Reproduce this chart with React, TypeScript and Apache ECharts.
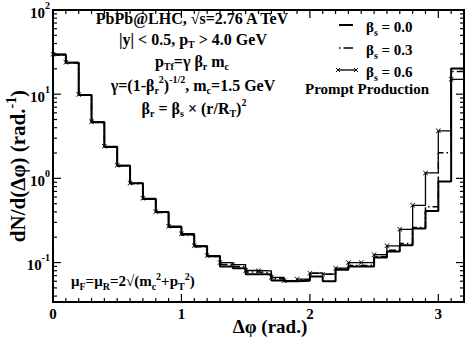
import React, { useEffect, useRef } from 'react';
import * as echarts from 'echarts';

// ---- data ----
const binLeftEdges = [
  0.0, 0.1, 0.2, 0.3, 0.4, 0.5, 0.6, 0.7, 0.8, 0.9,
  1.0, 1.1, 1.2, 1.3, 1.4, 1.5, 1.6, 1.7, 1.8, 1.9,
  2.0, 2.1, 2.2, 2.3, 2.4, 2.5, 2.6, 2.7, 2.8, 2.9,
  3.0, 3.1,
];
const lastBinRightEdge = 3.2;

const dNdPhiBetaS00 = [
  29.5, 23.6, 9.8, 4.64, 2.36, 1.41, 0.873, 0.57, 0.398, 0.265,
  0.215, 0.156, 0.119, 0.0897, 0.0857, 0.0728, 0.0728, 0.0614, 0.0598, 0.0609,
  0.0685, 0.0598, 0.0821, 0.0897, 0.0897, 0.1145, 0.135, 0.16, 0.253, 0.41,
  0.92, 20.2,
];
const dNdPhiBetaS03 = [
  29.3, 23.4, 9.7, 4.62, 2.34, 1.40, 0.866, 0.566, 0.394, 0.262,
  0.212, 0.154, 0.118, 0.095, 0.09, 0.077, 0.076, 0.064, 0.060, 0.062,
  0.0748, 0.0728, 0.084, 0.092, 0.093, 0.118, 0.14, 0.168, 0.26, 0.46,
  2.02, 18.6,
];
const dNdPhiBetaS06 = [
  29.8, 23.9, 9.9, 4.7, 2.4, 1.43, 0.88, 0.58, 0.40, 0.27,
  0.22, 0.158, 0.121, 0.1, 0.0947, 0.0805, 0.0798, 0.0667, 0.061, 0.0637,
  0.0748, 0.0728, 0.0857, 0.1, 0.1, 0.124, 0.158, 0.248, 0.478, 1.16,
  3.67, 15.0,
];

const seriesNames = ['βs = 0.0', 'βs = 0.3', 'βs = 0.6'];
const xTickLabels = ['0', '1', '2', '3'];
const yTickExponents = [-1, 0, 1, 2];

const X_MIN = 0;
const X_MAX = 3.2;
const Y_MIN = 0.034;
const Y_MAX = 100;

const SERIF = '"Liberation Serif", "Times New Roman", serif';
const F = (size: number) => `bold ${size}px ${SERIF}`;

function richFor(size: number): any {
  const sub = Math.round(size * 0.65);
  return {
    s: { font: F(sub), lineHeight: sub, verticalAlign: 'bottom', fill: '#000' },
    u: { font: F(sub), lineHeight: sub, verticalAlign: 'top', fill: '#000' },
  };
}

function txt(text: string, x: number, y: number, opts: any = {}) {
  const size = opts.size || 15;
  return {
    type: 'text',
    x,
    y,
    rotation: opts.rotation || 0,
    silent: true,
    z: 100,
    style: {
      text,
      font: F(size),
      fill: '#000',
      align: opts.align || 'center',
      verticalAlign: 'middle',
      lineHeight: Math.round(size * 1.3),
      rich: richFor(size),
    },
  };
}

function seg(x1: number, y1: number, x2: number, y2: number, w: number, dash?: number[]) {
  return {
    type: 'line',
    silent: true,
    z: 100,
    shape: { x1, y1, x2, y2 },
    style: { stroke: '#000', lineWidth: w, lineDash: dash || null },
  };
}

function cross(cx: number, cy: number, r: number) {
  return [seg(cx - r, cy - r, cx + r, cy + r, 1), seg(cx - r, cy + r, cx + r, cy - r, 1)];
}

function histData(vals: number[]) {
  const pts: any[] = binLeftEdges.map((x, i) => [x, vals[i]]);
  pts.push({ value: [lastBinRightEdge, vals[vals.length - 1]], symbol: 'none' });
  return pts;
}

export default function App() {
  const ref = useRef<HTMLDivElement>(null);
  useEffect(() => {
    if (!ref.current) return;
    const chart = echarts.init(ref.current, undefined, { renderer: 'svg' });

    // tick marks (inside, on all four sides)
    const ticks: number[][] = [];
    for (let k = 0; k <= 32; k++) {
      const x = k / 10;
      if (x <= X_MIN || x >= X_MAX) continue;
      const major = k % 10 === 0;
      ticks.push([x, Y_MIN, 0, major ? 8 : 4]);
    }
    for (let e = -2; e <= 2; e++) {
      for (let m = 1; m <= 9; m++) {
        const v = m * Math.pow(10, e);
        if (v <= Y_MIN * 1.0001 || v >= Y_MAX * 0.9999) continue;
        ticks.push([X_MIN, v, 1, m === 1 ? 8 : 4]);
      }
    }

    const crossPath = 'path://M0,1L1,0L5,4L9,0L10,1L6,5L10,9L9,10L5,6L1,10L0,9L4,5Z';

    const option: any = {
      animation: false,
      backgroundColor: '#fff',
      grid: {
        left: 53,
        right: 11,
        top: 7,
        bottom: 38,
        show: true,
        borderColor: '#000',
        borderWidth: 2,
        backgroundColor: 'transparent',
      },
      xAxis: {
        type: 'value',
        min: X_MIN,
        max: X_MAX,
        interval: 1,
        axisLine: { show: false },
        axisTick: { show: false },
        splitLine: { show: false },
        axisLabel: {
          margin: 4,
          color: '#000',
          fontFamily: SERIF,
          fontWeight: 'bold',
          fontSize: 15,
          formatter: (v: number) => {
            const i = Math.round(v);
            return Math.abs(v - i) < 1e-6 && xTickLabels[i] !== undefined ? xTickLabels[i] : '';
          },
        },
      },
      yAxis: {
        type: 'log',
        logBase: 10,
        min: Y_MIN,
        max: Y_MAX,
        axisLine: { show: false },
        axisTick: { show: false },
        splitLine: { show: false },
        axisLabel: {
          margin: 3,
          color: '#000',
          fontFamily: SERIF,
          fontWeight: 'bold',
          fontSize: 15,
          formatter: (v: number) => {
            const e = Math.log10(v);
            const r = Math.round(e);
            if (Math.abs(e - r) > 1e-6 || yTickExponents.indexOf(r) < 0) return '';
            return `{b|10}{e|${r}}`;
          },
          rich: {
            b: { fontFamily: SERIF, fontWeight: 'bold', fontSize: 15, lineHeight: 20, color: '#000', verticalAlign: 'bottom' },
            e: { fontFamily: SERIF, fontWeight: 'bold', fontSize: 10, lineHeight: 10, color: '#000', verticalAlign: 'top' },
          },
        },
      },
      series: [
        {
          type: 'custom',
          name: 'ticks',
          silent: true,
          clip: false,
          z: 10,
          data: ticks,
          renderItem: (_p: any, api: any) => {
            const kind = api.value(2);
            const len = api.value(3);
            const st = { stroke: '#000', lineWidth: 1.2 };
            if (kind === 0) {
              const x = api.value(0);
              const b = api.coord([x, Y_MIN]);
              const t = api.coord([x, Y_MAX]);
              return {
                type: 'group',
                children: [
                  { type: 'line', shape: { x1: b[0], y1: b[1], x2: b[0], y2: b[1] - len }, style: st },
                  { type: 'line', shape: { x1: t[0], y1: t[1], x2: t[0], y2: t[1] + len }, style: st },
                ],
              };
            }
            const v = api.value(1);
            const l = api.coord([X_MIN, v]);
            const r = api.coord([X_MAX, v]);
            return {
              type: 'group',
              children: [
                { type: 'line', shape: { x1: l[0], y1: l[1], x2: l[0] + len, y2: l[1] }, style: st },
                { type: 'line', shape: { x1: r[0], y1: r[1], x2: r[0] - len, y2: r[1] }, style: st },
              ],
            };
          },
        },
        {
          type: 'line',
          name: seriesNames[2],
          step: 'end',
          data: histData(dNdPhiBetaS06),
          showSymbol: true,
          symbol: crossPath,
          symbolSize: 5,
          itemStyle: { color: '#000' },
          lineStyle: { color: '#000', width: 1.3 },
          z: 3,
        },
        {
          type: 'line',
          name: seriesNames[1],
          step: 'end',
          data: histData(dNdPhiBetaS03),
          showSymbol: false,
          symbol: 'none',
          lineStyle: { color: '#000', width: 1.5, type: [7, 3, 1.5, 3] },
          z: 4,
        },
        {
          type: 'line',
          name: seriesNames[0],
          step: 'end',
          data: histData(dNdPhiBetaS00),
          showSymbol: false,
          symbol: 'none',
          lineStyle: { color: '#000', width: 2 },
          z: 5,
        },
      ],
      graphic: [
        txt('PbPb@LHC, √s=2.76 A TeV', 192, 18, { size: 16 }),
        txt('|y| < 0.5, p{s|T} > 4.0 GeV', 193, 39, { size: 16 }),
        txt('p{s|Tf}=γ β{s|r} m{s|c}', 192, 61, { size: 16 }),
        txt('γ=(1-β{s|r}{u|2}){u|-1/2}, m{s|c}=1.5 GeV', 193, 85, { size: 16 }),
        txt('β{s|r} = β{s|s} × (r/R{s|T}){u|2}', 194, 108, { size: 16 }),
        txt('μ{s|F}=μ{s|R}=2√(m{s|c}{u|2}+p{s|T}{u|2})', 71, 281, { align: 'left' }),
        txt('dN/d(Δφ) (rad.{u|-1})', 18, 166, { rotation: Math.PI / 2, size: 21 }),
        txt('Δφ (rad.)', 270, 326, { size: 19 }),
        // legend
        seg(339, 25, 353, 25, 2),
        txt('β{s|s} = 0.0', 366, 27, { align: 'left' }),
        seg(339, 48, 353, 48, 1.5, [1.5, 3, 10]),
        txt('β{s|s} = 0.3', 366, 50, { align: 'left' }),
        seg(339, 70, 355, 70, 1.3),
        ...cross(338, 70, 2),
        ...cross(356, 70, 2),
        txt('β{s|s} = 0.6', 366, 72, { align: 'left' }),
        txt('Prompt Production', 367, 89),
      ],
    };
    chart.setOption(option);
    return () => chart.dispose();
  }, []);
  return (
    <div
      ref={ref}
      style={{ position: 'fixed', left: 0, top: 0, width: 475, height: 340, background: '#fff' }}
    />
  );
}
